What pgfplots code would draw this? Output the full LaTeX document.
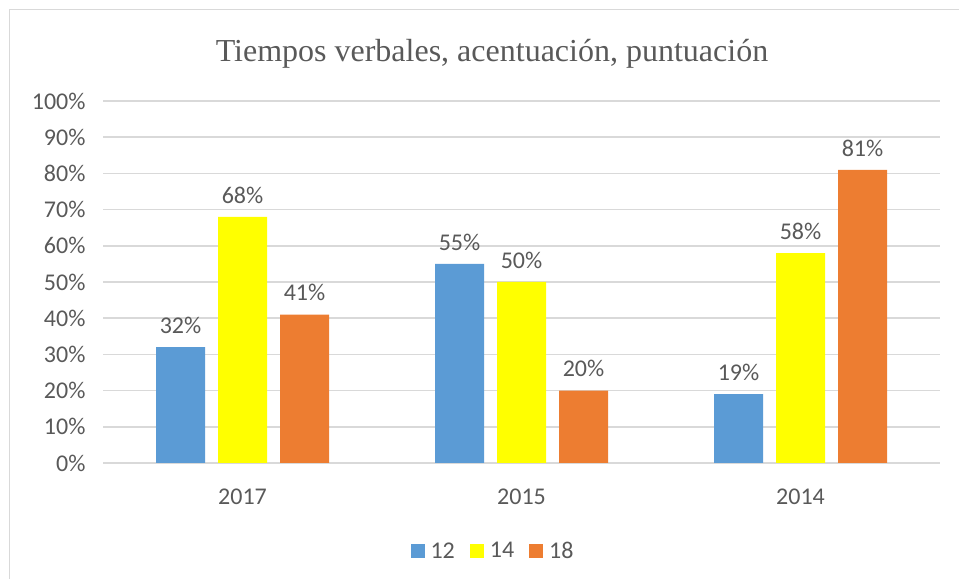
\documentclass[border=0pt]{standalone}
\usepackage{fontspec}
\setmainfont{Carlito}
\newfontfamily\tnr{Liberation Serif}
\usepackage{pgfplots}
\pgfplotsset{compat=1.18}
\definecolor{cblue}{HTML}{5B9BD5}
\definecolor{cyellow}{HTML}{FFFF00}
\definecolor{corange}{HTML}{ED7D31}
\definecolor{txt}{HTML}{595959}
\definecolor{gridc}{HTML}{D9D9D9}
\begin{document}
\begin{tikzpicture}[x=1bp,y=1bp]
\useasboundingbox (0,0) rectangle (959,579);
\draw[gridc, line width=1.5bp] (9.5,0) -- (9.5,569.5) -- (959,569.5);
\node[text=txt, font=\tnr\fontsize{32bp}{36bp}\selectfont] at (492,525) {Tiempos verbales, acentuación, puntuación};
\begin{axis}[
  at={(103bp,116bp)}, anchor=south west,
  scale only axis, width=837bp, height=362bp,
  xmin=-0.5, xmax=2.5, ymin=0, ymax=100,
  ybar=13bp, bar width=49bp,
  xtick={0,1,2}, xticklabels={2017,2015,2014},
  ytick={0,10,...,100},
  yticklabel={\pgfmathprintnumber{\tick}\%},
  /pgf/number format/assume math mode=true,
  major tick length=0pt,
  axis line style={draw=none},
  ymajorgrids, grid style={gridc, line width=1.5bp},
  tick label style={text=txt, font=\fontsize{24bp}{28bp}\selectfont},
  yticklabel style={xshift=-14bp},
  xticklabel style={yshift=-22bp},
  nodes near coords={\pgfmathprintnumber{\pgfplotspointmeta}\%},
  every node near coord/.append style={text=txt, font=\fontsize{24bp}{28bp}\selectfont, yshift=10bp},
  legend columns=3,
  legend style={draw=none, fill=none, at={(0.466,-0.243)}, anchor=center,
    font=\fontsize{24bp}{28bp}\selectfont, text=txt,
    /tikz/every odd column/.append style={column sep=4bp},
    /tikz/every even column/.append style={column sep=13bp}},
  legend image code/.code={\fill[#1,draw=none] (0bp,-7bp) rectangle (14bp,7bp);},
]
\addplot[fill=cblue, draw=none] coordinates {(0,32) (1,55) (2,19)};
\addplot[fill=cyellow, draw=none] coordinates {(0,68) (1,50) (2,58)};
\addplot[fill=corange, draw=none] coordinates {(0,41) (1,20) (2,81)};
\legend{12,14,18}
\end{axis}
\end{tikzpicture}
\end{document}
